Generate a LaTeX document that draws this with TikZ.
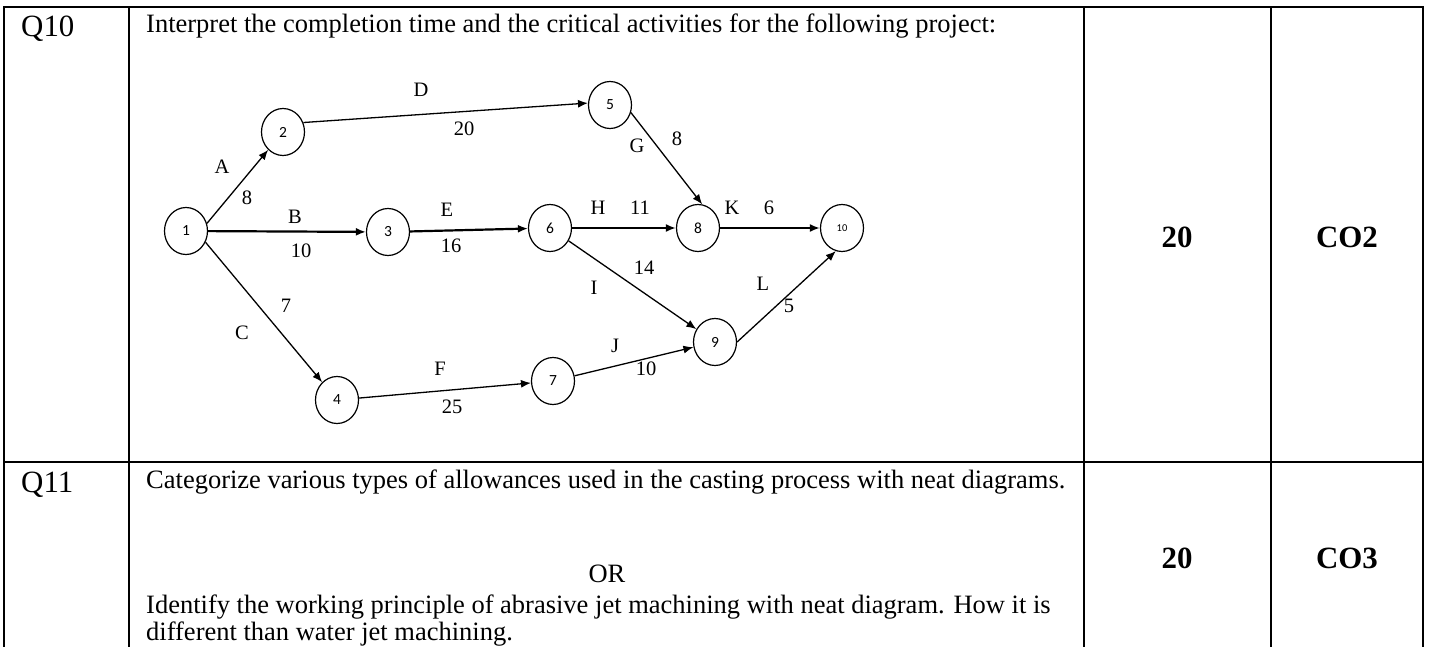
\documentclass[tikz,border=0pt]{standalone}
\usepackage{fontspec}
\setmainfont{Liberation Serif}
\newfontfamily\numfont{Carlito}
\usetikzlibrary{arrows.meta,shapes.geometric}

\begin{document}
\begin{tikzpicture}[x=1pt, y=-1pt, >={Latex[length=10pt,width=8pt]},
        event/.style={draw, ellipse, line width=1.2pt, minimum width=43pt, minimum height=47pt, inner sep=0pt},
        act/.style={line width=1.3pt},
        crit/.style={line width=2.2pt},
        rule/.style={line width=2.6pt},
        txt/.style={anchor=base west, inner sep=0pt}]
    \useasboundingbox (0,0) rectangle (1429,647);

    % table frame
    \draw [rule] (4,647) -- (4,7) -- (1423,7) -- (1423,647);
    \draw [rule] (4,462) -- (1423,462);
    \draw [rule] (129,7) -- (129,647);
    \draw [rule] (1084,7) -- (1084,647);
    \draw [rule] (1271,7) -- (1271,647);

    \fontsize{30.9}{33}\selectfont
    \node [txt] (q10) at (21,37) {Q10};
    \node [txt] (q11) at (21,492) {Q11};

    \fontsize{26.5}{27}\selectfont
    \node [txt] (ask10) at (146,33) {Interpret the completion time and the critical activities for the following project:};
    \node [txt] (ask11) at (146,488) {Categorize various types of allowances used in the casting process with neat diagrams.};
    \node [anchor=base, inner sep=0pt] (or) at (607,582) {OR};
    \node [txt] (alt11) at (146,613) {Identify the working principle of abrasive jet machining with neat diagram. How it is};
    \node [txt] (alt11b) at (146,640) {different than water jet machining.};

    \bfseries\fontsize{30.9}{33}\selectfont
    \node [anchor=base, inner sep=0pt] (m10) at (1177,247) {20};
    \node [anchor=base, inner sep=0pt] (co10) at (1347,247) {CO2};
    \node [anchor=base, inner sep=0pt] (m11) at (1177,568) {20};
    \node [anchor=base, inner sep=0pt] (co11) at (1347,568) {CO3};

    % project network
    \mdseries\numfont\fontsize{15.5}{16}\selectfont
    \node [event] (e1) at (186,231) {1};
    \node [event] (e2) at (283,132) {2};
    \node [event] (e3) at (388,232) {3};
    \node [event] (e4) at (337,400) {4};
    \node [event] (e5) at (610,105) {5};
    \node [event] (e6) at (550,228) {6};
    \node [event] (e7) at (553,381) {7};
    \node [event] (e8) at (698,228) {8};
    \node [event] (e9) at (715,342) {9};
    \node [event, font=\fontsize{10.5}{11}\selectfont] (e10) at (842,228) {10};

    \draw [->, act]  (e1.20) -- (e2);
    \draw [->, crit] (e1) -- (e3);
    \draw [->, act]  (e1.-30) -- (e4);
    \draw [->, act]  (e2.25) -- (e5.175);
    \draw [->, crit] (e3) -- (e6);
    \draw [->, act]  (e4) -- (e7);
    \draw [->, act]  (e5.-20) -- (e8.80);
    \draw [->, crit] (e6) -- (e8);
    \draw [->, act]  (e6) -- (e9);
    \draw [->, act]  (e7) -- (e9);
    \draw [->, crit] (e8) -- (e10);
    \draw [->, act]  (e9.east) -- (e10.-105);

    \rmfamily\fontsize{20.5}{21}\selectfont
    \node (A) at (222,167) {A};   \node (tA) at (247,198) {8};
    \node (B) at (295,217) {B};   \node (tB) at (301,251) {10};
    \node (C) at (242,333) {C};   \node (tC) at (286,306) {7};
    \node (D) at (421,90)  {D};   \node (tD) at (464,129) {20};
    \node (E) at (447,210) {E};   \node (tE) at (451,246) {16};
    \node (F) at (440,369) {F};   \node (tF) at (452,407) {25};
    \node (G) at (637,146) {G};   \node (tG) at (677,139) {8};
    \node (H) at (598,208) {H};   \node (tH) at (640,208) {11};
    \node (I) at (594,288) {I};   \node (tI) at (644,268) {14};
    \node (J) at (615,346) {J};   \node (tJ) at (646,369) {10};
    \node (K) at (732,208) {K};   \node (tK) at (769,208) {6};
    \node (L) at (763,284) {L};   \node (tL) at (789,306) {5};
\end{tikzpicture}
\end{document}
